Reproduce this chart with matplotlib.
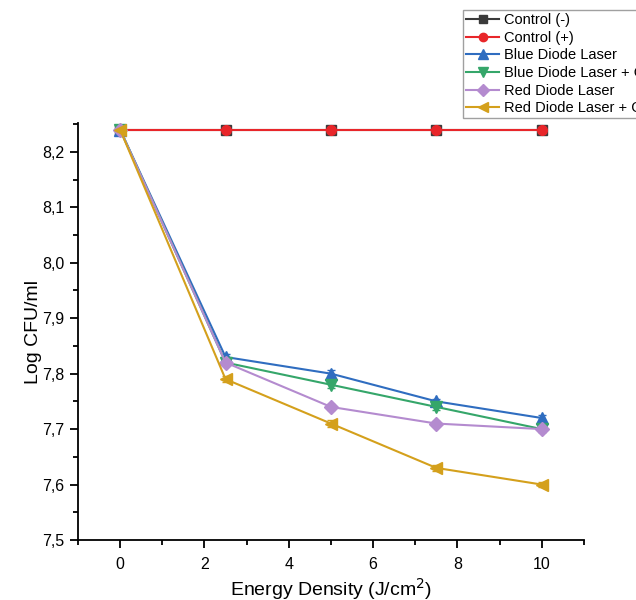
import matplotlib
matplotlib.use("Agg")
import matplotlib.pyplot as plt
from matplotlib.ticker import MultipleLocator, FuncFormatter
from matplotlib.lines import Line2D

plt.rcParams['font.family'] = ['Liberation Sans', 'DejaVu Sans']

energy = [0, 2.5, 5, 7.5, 10]
control_neg = [8.24, 8.24, 8.24, 8.24, 8.24]
control_pos = [8.24, 8.24, 8.24, 8.24, 8.24]
blue = [8.24, 7.83, 7.80, 7.75, 7.72]
blue_cur = [8.24, 7.82, 7.78, 7.74, 7.70]
red = [8.24, 7.82, 7.74, 7.71, 7.70]
red_cur = [8.24, 7.79, 7.71, 7.63, 7.60]
err = [0.005, 0.005, 0.006, 0.005, 0.005]

labels = ["Control (-)", "Control (+)", "Blue Diode Laser", "Blue Diode Laser + Curcumin",
          "Red Diode Laser", "Red Diode Laser + Curcumin"]
series = [control_neg, control_pos, blue, blue_cur, red, red_cur]
colors = ['#3a3a3a', '#e8262a', '#2f6dc0', '#35a66a', '#b48bcf', '#d4a01c']
markers = ['s', 'o', '^', 'v', 'D', '<']
msizes = [7, 7, 8, 8, 7, 8]

fig = plt.figure(figsize=(6.36, 6.0), dpi=100)
ax = fig.add_axes([0.1226, 0.1, 0.7955, 0.695])

for i in range(6):
    ax.errorbar(energy, series[i], yerr=err, color=colors[i], marker=markers[i],
                markersize=msizes[i], linewidth=1.5, capsize=3, elinewidth=1)

ax.set_xlim(-1, 11)
ax.set_ylim(7.5, 8.252)
ax.xaxis.set_major_locator(MultipleLocator(2))
ax.xaxis.set_minor_locator(MultipleLocator(1))
ax.yaxis.set_major_locator(MultipleLocator(0.1))
ax.yaxis.set_minor_locator(MultipleLocator(0.05))
ax.yaxis.set_major_formatter(FuncFormatter(lambda v, p: f"{v:.1f}".replace('.', ',')))
ax.xaxis.set_major_formatter(FuncFormatter(lambda v, p: f"{v:g}"))

for s in ['top', 'right']:
    ax.spines[s].set_visible(False)
for s in ['left', 'bottom']:
    ax.spines[s].set_linewidth(1.3)
ax.tick_params(axis='both', which='major', direction='out', length=6, width=1.3, labelsize=11.5)
ax.tick_params(axis='y', which='major', pad=4)
ax.tick_params(axis='x', which='major', pad=6)
ax.tick_params(axis='both', which='minor', direction='out', length=3.5, width=1.3)

ax.set_xlabel("Energy Density (J/cm$^2$)", fontsize=14, labelpad=3)
ax.set_ylabel("Log CFU/ml", fontsize=14, labelpad=0)

proxies = [Line2D([], [], color=colors[i], marker=markers[i], markersize=msizes[i] - 1,
                  linewidth=1.5) for i in range(6)]
leg = fig.legend(proxies, labels, loc='upper left',
                 bbox_to_anchor=(0.728, 0.983), fontsize=10.5, frameon=True, fancybox=False,
                 edgecolor='#888888', labelspacing=0.25, handlelength=2.3, handletextpad=0.3,
                 borderpad=0.2, borderaxespad=0)
leg.get_frame().set_linewidth(1.0)

fig.savefig("out.png", dpi=100)
